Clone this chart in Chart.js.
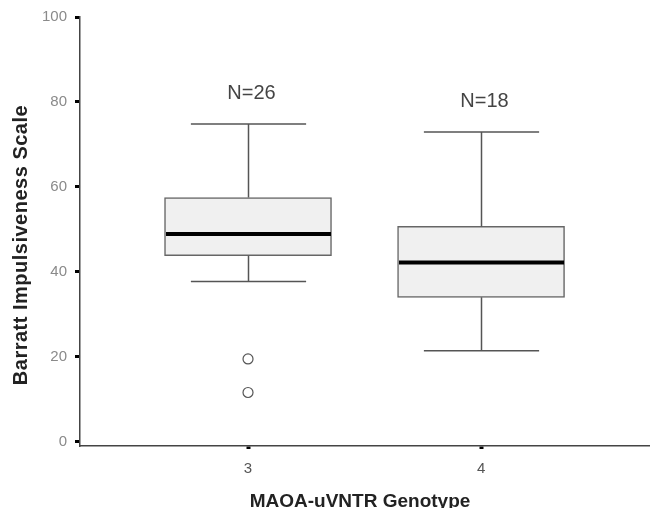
<!DOCTYPE html>
<html>
<head>
<meta charset="utf-8">
<script src="https://cdn.jsdelivr.net/npm/chart.js@4.4.1/dist/chart.umd.min.js"></script>
<style>
  html, body { margin: 0; padding: 0; background: #fff; }
  #chart { display: block; }
</style>
</head>
<body>
<canvas id="chart" width="650" height="508"></canvas>
<script>
// Barratt Impulsiveness Scale by MAOA-uVNTR genotype (box plot)
const genotypes = [3, 4];
const groupSizes = ['N=26', 'N=18'];
const whiskerLow = [37.7, 21.4];
const quartile1 = [43.8, 34.0];
const medians = [48.9, 42.2];
const quartile3 = [57.5, 50.7];
const whiskerHigh = [74.8, 72.9];
const outliers = [[19.5, 11.6], []];
const yTicks = [0, 20, 40, 60, 80, 100];

const FONT = '"Liberation Sans", Arial, sans-serif';

// whiskers, caps, medians, N labels and axis titles on top of the bars
const boxPlotExtras = {
  id: 'boxPlotExtras',
  afterDatasetsDraw(chart) {
    const { ctx, scales: { x, y } } = chart;
    const boxes = chart.getDatasetMeta(0).data;
    ctx.save();
    genotypes.forEach((g, i) => {
      const cx = Math.round(x.getPixelForValue(g)) + 0.5;
      const half = boxes[i].width / 2;
      const cap = half * 0.69;
      const yHi = y.getPixelForValue(whiskerHigh[i]);
      const yLo = y.getPixelForValue(whiskerLow[i]);
      const yQ1 = y.getPixelForValue(quartile1[i]);
      const yQ3 = y.getPixelForValue(quartile3[i]);
      const yMed = y.getPixelForValue(medians[i]);

      ctx.strokeStyle = '#555';
      ctx.lineWidth = 1.5;
      ctx.beginPath();
      ctx.moveTo(cx, yQ3); ctx.lineTo(cx, yHi);
      ctx.moveTo(cx - cap, yHi); ctx.lineTo(cx + cap, yHi);
      ctx.moveTo(cx, yQ1); ctx.lineTo(cx, yLo);
      ctx.moveTo(cx - cap, yLo); ctx.lineTo(cx + cap, yLo);
      ctx.stroke();

      ctx.strokeStyle = '#000';
      ctx.lineWidth = 4;
      ctx.beginPath();
      ctx.moveTo(cx - half + 1, yMed); ctx.lineTo(cx + half - 1, yMed);
      ctx.stroke();

      ctx.fillStyle = '#444';
      ctx.font = '20px ' + FONT;
      ctx.textAlign = 'center';
      ctx.textBaseline = 'middle';
      ctx.fillText(groupSizes[i], cx + 3, yHi - 31);
    });
    ctx.restore();
  },
  afterDraw(chart) {
    const { ctx, chartArea } = chart;
    ctx.save();
    ctx.fillStyle = '#222';
    ctx.font = 'bold 19px ' + FONT;
    ctx.textAlign = 'center';
    ctx.textBaseline = 'alphabetic';
    ctx.fillText('MAOA-uVNTR Genotype', (chartArea.left + chartArea.right) / 2 - 5, 507);

    ctx.translate(27, 245);
    ctx.rotate(-Math.PI / 2);
    ctx.font = 'bold 20px ' + FONT;
    ctx.letterSpacing = '0.5px';
    ctx.fillText('Barratt Impulsiveness Scale', 0, 0);
    ctx.restore();
  }
};

const outlierPoints = [];
genotypes.forEach((g, i) => outliers[i].forEach(v => outlierPoints.push({ x: g, y: v })));

new Chart(document.getElementById('chart'), {
  type: 'bar',
  data: {
    datasets: [
      {
        type: 'bar',
        data: genotypes.map((g, i) => ({ x: g, y: [quartile1[i], quartile3[i]] })),
        backgroundColor: '#f0f0f0',
        borderColor: '#666',
        borderWidth: 1.5,
        borderSkipped: false,
        barThickness: 167
      },
      {
        type: 'scatter',
        data: outlierPoints,
        pointStyle: 'circle',
        pointRadius: 5,
        backgroundColor: '#fff',
        borderColor: '#555',
        borderWidth: 1.2
      }
    ]
  },
  options: {
    responsive: false,
    animation: false,
    layout: { autoPadding: false, padding: { top: 17, right: 0, bottom: 0, left: 0 } },
    plugins: {
      legend: { display: false },
      tooltip: { enabled: false }
    },
    scales: {
      x: {
        type: 'linear',
        min: 2.279,
        max: 4.725,
        offset: false,
        afterBuildTicks: s => { s.ticks = genotypes.map(v => ({ value: v })); },
        afterFit: s => { s.height = 62; s.paddingLeft = 0; s.paddingRight = 0; },
        grid: { display: true, offset: false, drawOnChartArea: false, tickLength: 3, tickWidth: 4, tickColor: '#000' },
        border: { display: true, color: '#444', width: 1.5 },
        ticks: { color: '#555', padding: 11, font: { size: 15, family: FONT } }
      },
      y: {
        min: -1,
        max: 100,
        afterBuildTicks: s => { s.ticks = yTicks.map(v => ({ value: v })); },
        afterFit: s => { s.width = 80; s.paddingTop = 0; s.paddingBottom = 0; },
        grid: { display: true, drawOnChartArea: false, tickLength: 5, tickWidth: 3, tickColor: '#000' },
        border: { display: true, color: '#444', width: 1.5 },
        ticks: { color: '#8a8a8a', padding: 8, font: { size: 15, family: FONT } }
      }
    }
  },
  plugins: [boxPlotExtras]
});
</script>
</body>
</html>
